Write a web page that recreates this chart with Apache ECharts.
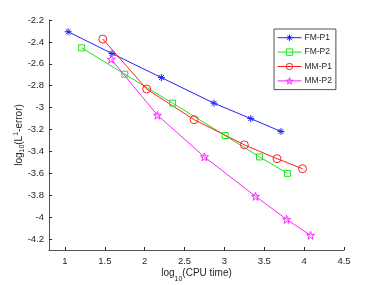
<!DOCTYPE html>
<html><head><meta charset="utf-8">
<script src="https://cdn.jsdelivr.net/npm/echarts@6/dist/echarts.min.js"></script>
<style>html,body{margin:0;padding:0;background:#fff}#c{width:380px;height:285px}</style>
</head><body><div id="c"></div>
<script>
const seriesNames = ['FM-P1','FM-P2','MM-P1','MM-P2'];
const fmP1 = [[1.04,-2.307],[1.59,-2.506],[2.21,-2.726],[2.87,-2.96],[3.33,-3.10],[3.71,-3.218]];
const fmP2 = [[1.21,-2.454],[1.75,-2.695],[2.35,-2.959],[3.01,-3.255],[3.44,-3.45],[3.79,-3.60]];
const mmP1 = [[1.475,-2.374],[2.025,-2.83],[2.62,-3.11],[3.25,-3.34],[3.66,-3.466],[3.98,-3.558]];
const mmP2 = [[1.58,-2.558],[2.16,-3.069],[2.75,-3.45],[3.39,-3.81],[3.78,-4.02],[4.08,-4.166]];
const xTicks = [1,1.5,2,2.5,3,3.5,4,4.5];
const yTicks = [-4.2,-4,-3.8,-3.6,-3.4,-3.2,-3,-2.8,-2.6,-2.4,-2.2];

const asterisk = 'path://M0,-1L0,1M-1,0L1,0M-0.7,-0.7L0.7,0.7M-0.7,0.7L0.7,-0.7';
const star = 'path://M0,-1L0.225,-0.309L0.951,-0.309L0.363,0.118L0.588,0.809L0,0.382L-0.588,0.809L-0.363,0.118L-0.951,-0.309L-0.225,-0.309Z';
const font = 'Liberation Sans, Arial, sans-serif';
const axisCol = '#262626';
function fmt(v){ return String(Math.round(v*10)/10); }
function mk(name, data, color, symbol, size){
  return {name, type:'line', data, symbol, symbolSize:size, showAllSymbol:true,
    lineStyle:{color, width:1}, itemStyle:{color:'none', borderColor:color, borderWidth:1},
    emphasis:{disabled:true}, animation:false};
}
const chart = echarts.init(document.getElementById('c'));
chart.setOption({
  animation:false,
  grid:{left:49, right:36, top:20, bottom:35, containLabel:false, outerBoundsMode:'none'},
  legend:{orient:'vertical', left:274, top:29, itemWidth:24, itemHeight:8, itemGap:3,
    padding:[3,4,3,3], borderColor:axisCol, borderWidth:0.8, backgroundColor:'#fff',
    lineStyle:{width:1}, itemStyle:{borderWidth:1},
    textStyle:{fontFamily:font, fontSize:8.5, color:'#262626', padding:[0,0,0,-2]}, data:seriesNames},
  xAxis:{type:'value', min:0.8, max:4.5,
    axisLine:{lineStyle:{color:axisCol, width:0.8}},
    axisTick:{inside:true, length:3, customValues:xTicks, lineStyle:{color:axisCol}},
    axisLabel:{customValues:xTicks, formatter:fmt, fontFamily:font, fontSize:9.5, color:axisCol, margin:6},
    splitLine:{show:false},
    name:'{n|log}{s|10}{n|(CPU time)}', nameLocation:'middle', nameGap:18, nameMoveOverlap:false,
    nameTextStyle:{rich:{n:{fontFamily:font, fontSize:10, color:axisCol, verticalAlign:'top'},
      s:{fontFamily:font, fontSize:7, color:axisCol, verticalAlign:'bottom', padding:[8,0,0,0]}}}},
  yAxis:{type:'value', min:-4.3, max:-2.2,
    axisLine:{show:true, lineStyle:{color:axisCol, width:0.8}},
    axisTick:{show:true, inside:true, length:3, customValues:yTicks, lineStyle:{color:axisCol}},
    axisLabel:{customValues:yTicks, formatter:fmt, fontFamily:font, fontSize:9.5, color:axisCol, margin:5},
    splitLine:{show:false},
    name:'{n|log}{s|10}{n|(L}{p|1}{n|-error)}', nameLocation:'middle', nameGap:23, nameRotate:90, nameMoveOverlap:false,
    nameTextStyle:{rich:{n:{fontFamily:font, fontSize:10, color:axisCol},
      s:{fontFamily:font, fontSize:7, color:axisCol, verticalAlign:'bottom', padding:[6,0,0,0]},
      p:{fontFamily:font, fontSize:7, color:axisCol, verticalAlign:'top', padding:[0,0,6,0]}}}},
  series:[
    mk('FM-P1', fmP1, '#2020ff', asterisk, 7),
    mk('FM-P2', fmP2, '#20e020', 'rect', 6),
    mk('MM-P1', mmP1, '#ff2020', 'circle', 8),
    mk('MM-P2', mmP2, '#ff20ff', star, 8)
  ]
});
</script></body></html>
